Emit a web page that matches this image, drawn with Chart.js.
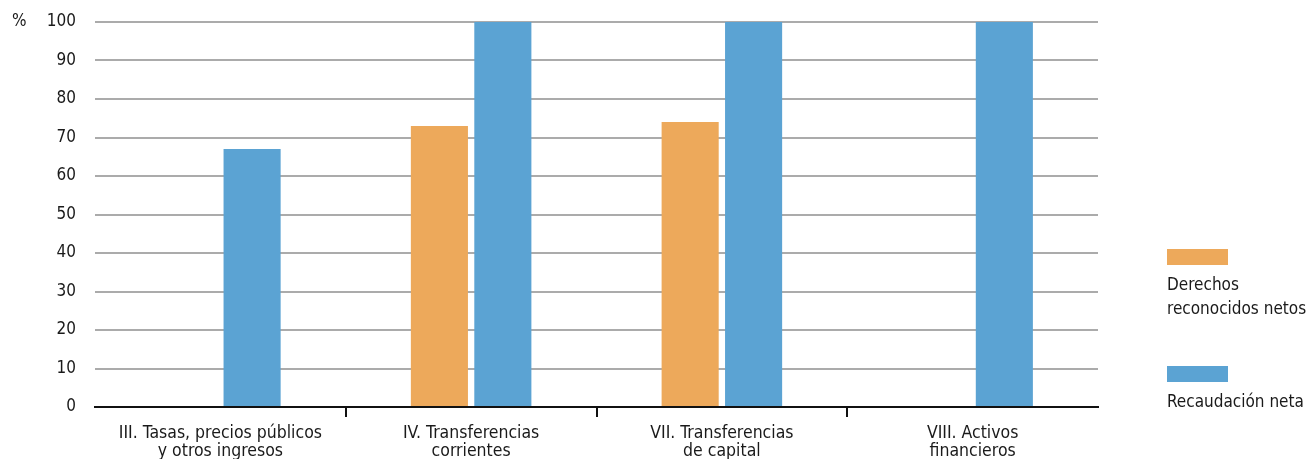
<!DOCTYPE html>
<html>
<head>
<meta charset="utf-8">
<script src="https://cdn.jsdelivr.net/npm/chart.js@4/dist/chart.umd.min.js"></script>
<style>
html,body{margin:0;padding:0;background:#fff;}
#wrap{width:1308px;height:459px;position:relative;}
</style>
</head>
<body>
<div id="wrap"><canvas id="c" width="1308" height="459"></canvas></div>
<script>
const categories = [
  ["III. Tasas, precios públicos", "y otros ingresos"],
  ["IV. Transferencias", "corrientes"],
  ["VII. Transferencias", "de capital"],
  ["VIII. Activos", "financieros"]
];
const derechosLabel = ["Derechos", "reconocidos netos"];
const recaudacionLabel = ["Recaudación neta"];
const derechos = [null, 73, 74, null];
const recaudacion = [67, 100, 100, 100];
const yTicks = [0, 10, 20, 30, 40, 50, 60, 70, 80, 90, 100];
const unitLabel = "%";

const FONT = "'Liberation Sans Narrow', 'DejaVu Sans Condensed', sans-serif";
const TEXT = "#1a1a1a";
const ORANGE = "#EDA95B";
const BLUE = "#5BA3D3";

const extras = {
  id: 'extras',
  afterDraw(chart) {
    const ctx = chart.ctx;
    const ca = chart.chartArea;
    ctx.save();
    ctx.fillStyle = TEXT;
    ctx.font = "17px " + FONT;
    ctx.textBaseline = 'middle';
    ctx.textAlign = 'left';
    ctx.fillText(unitLabel, 12, chart.scales.y.getPixelForValue(100));
    // legend
    const x = ca.right + 69;
    const items = [
      {color: ORANGE, lines: chart.data.datasets[0].label, top: 249},
      {color: BLUE, lines: chart.data.datasets[1].label, top: 366}
    ];
    items.forEach(it => {
      ctx.fillStyle = it.color;
      ctx.fillRect(x, it.top, 61, 16);
      ctx.fillStyle = TEXT;
      it.lines.forEach((l, i) => {
        ctx.fillText(l, x, it.top + 37 + i * 24);
      });
    });
    ctx.restore();
  }
};

new Chart(document.getElementById('c'), {
  type: 'bar',
  data: {
    labels: categories,
    datasets: [
      {label: derechosLabel, data: derechos, backgroundColor: ORANGE, borderWidth: 0,
       categoryPercentage: 0.506, barPercentage: 0.9},
      {label: recaudacionLabel, data: recaudacion, backgroundColor: BLUE, borderWidth: 0,
       categoryPercentage: 0.506, barPercentage: 0.9}
    ]
  },
  options: {
    responsive: false,
    animation: false,
    layout: {padding: {top: 22, right: 210, left: 0, bottom: 0}},
    plugins: {legend: {display: false}, tooltip: {enabled: false}},
    scales: {
      x: {
        offset: true,
        afterFit: (s) => { s.height = 52; s.paddingLeft = 0; s.paddingRight = 0; },
        grid: {
          offset: true,
          drawOnChartArea: false,
          drawTicks: true,
          tickLength: 10,
          lineWidth: 2,
          color: (c) => (c.index === undefined || c.index === 0) ? 'rgba(0,0,0,0)' : '#111'
        },
        border: {display: true, color: '#111', width: 2},
        ticks: {
          color: TEXT,
          font: {family: FONT, size: 17.5, lineHeight: 1.04},
          padding: 7,
          maxRotation: 0,
          autoSkip: false
        }
      },
      y: {
        min: 0,
        max: 100,
        afterBuildTicks: (s) => { s.ticks = yTicks.map(v => ({value: v})); },
        afterFit: (s) => { s.width = 95; s.paddingTop = 0; s.paddingBottom = 0; },
        grid: {color: '#ababab', lineWidth: 2, drawTicks: false},
        border: {display: false},
        ticks: {
          color: TEXT,
          font: {family: FONT, size: 17},
          padding: 19
        }
      }
    }
  },
  plugins: [extras]
});
</script>
</body>
</html>
